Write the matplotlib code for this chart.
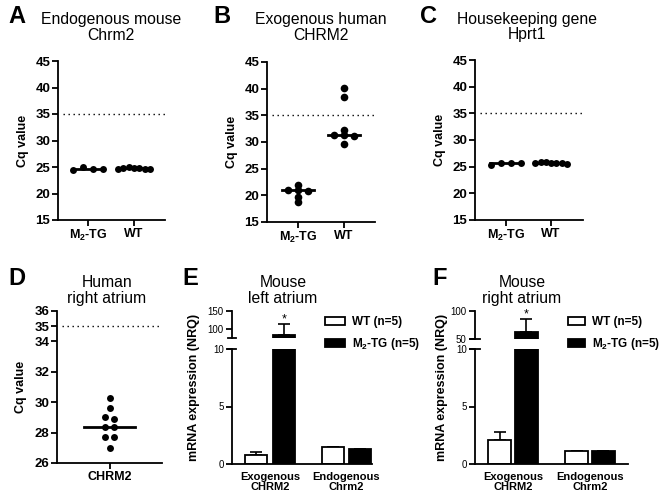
import numpy as np
import matplotlib.pyplot as plt
from matplotlib.patches import Patch

plt.rcParams['font.family'] = ['Liberation Sans', 'DejaVu Sans']
plt.rcParams['mathtext.fontset'] = 'custom'
plt.rcParams['mathtext.rm'] = 'Liberation Sans'
plt.rcParams['mathtext.bf'] = 'Liberation Sans:bold'
plt.rcParams['axes.linewidth'] = 1.3
plt.rcParams['xtick.major.width'] = 1.3
plt.rcParams['ytick.major.width'] = 1.3

W, H = 665, 496

# ---- data ----
cq_groups = [r'$\mathbf{M_2}$-TG', 'WT']
a_tg = [24.4, 25.0, 24.6, 24.6]
a_wt = [24.7, 24.9, 25.0, 24.9, 24.8, 24.7, 24.6]
b_tg = [21.0, 21.0, 20.9, 21.9, 19.7, 18.8]
b_wt = [40.1, 38.5, 32.3, 31.4, 31.3, 31.2, 29.7]
c_tg = [25.3, 25.6, 25.6, 25.6]
c_wt = [25.7, 25.9, 25.8, 25.7, 25.6, 25.7, 25.5]
d_group = ['CHRM2']
d_human = [30.3, 29.6, 29.0, 28.9, 28.4, 28.4, 27.7, 27.7, 27.0]
cq_cutoff = 35
cq_ticks = [15, 20, 25, 30, 35, 40, 45]
d_ticks = [26, 28, 30, 32, 34, 35, 36]

genes = ['Exogenous\nCHRM2', 'Endogenous\nChrm2']
e_wt = [0.75, 1.48]
e_wt_err = [0.3, 0.03]
e_tg = [83, 1.30]
e_tg_err = [31, 0.03]
f_wt = [2.1, 1.1]
f_wt_err = [0.7, 0.03]
f_tg = [63, 1.1]
f_tg_err = [23, 0.03]
bar_labels = ['WT (n=5)', r'$\mathbf{M_2}$-TG (n=5)']


def box(l, r, t, b):
    return [l / W, 1 - b / H, (r - l) / W, (b - t) / H]


def swarm(vals, tol, step, half):
    # spread points with (almost) the same value side by side
    vals = np.asarray(vals, float)
    order = np.argsort(vals, kind='stable')
    clusters = []
    for i in order:
        if clusters and vals[i] - vals[clusters[-1][0]] <= tol:
            clusters[-1].append(i)
        else:
            clusters.append([i])
    offs = np.zeros(len(vals))
    for cl in clusters:
        cl = sorted(cl)
        k = len(cl)
        d = step if k == 1 else min(step, 2 * half / (k - 1))
        for j, i in enumerate(cl):
            offs[i] = (j - (k - 1) / 2) * d
    return offs


fig = plt.figure(figsize=(W / 100, H / 100), dpi=100)


def dot_panel(rect, labels, values, ylim, yticks, xlim, tol, step, half, med, ms):
    ax = fig.add_axes(rect)
    for i, v in enumerate(values):
        off = swarm(v, tol, step, half)
        ax.plot([i - med, i + med], [np.median(v)] * 2, color='k', lw=2, zorder=2)
        ax.plot(i + off, v, 'o', color='k', ms=ms, mew=0, zorder=3, clip_on=False)
    ax.axhline(cq_cutoff, xmin=0.05, xmax=1, color='k', lw=1, ls=(0, (1, 2.6)))
    ax.set_xlim(*xlim)
    ax.set_ylim(*ylim)
    ax.set_yticks(yticks)
    ax.set_xticks(range(len(labels)))
    ax.set_xticklabels(labels, fontsize=9, fontweight='bold')
    ax.tick_params(axis='y', labelsize=9.5, length=4, pad=1.5)
    ax.tick_params(axis='x', length=4, pad=2)
    for t in ax.get_yticklabels():
        t.set_fontweight('bold')
    ax.set_ylabel('Cq value', fontsize=9, fontweight='bold', labelpad=5)
    for s in ['top', 'right']:
        ax.spines[s].set_visible(False)
    return ax


dot_panel(box(58, 165, 61, 220), cq_groups, [a_tg, a_wt], (15, 45), cq_ticks,
          (-0.66, 1.68), 0.7, 0.22, 0.35, 0.35, 5)
dot_panel(box(267, 375, 62, 222), cq_groups, [b_tg, b_wt], (15, 45), cq_ticks,
          (-0.67, 1.68), 0.5, 0.22, 0.35, 0.35, 5.5)
dot_panel(box(475, 583, 60, 220), cq_groups, [c_tg, c_wt], (15, 45), cq_ticks,
          (-0.69, 1.71), 0.7, 0.22, 0.35, 0.35, 5)
dot_panel(box(57, 162, 311, 463), d_group, [d_human], (26, 36), d_ticks,
          (-1, 1), 0.3, 0.17, 0.3, 0.48, 5)


def bar_panel(lower_rect, upper_rect, upper_lim, upper_ticks, wt, wt_err, tg, tg_err,
              xlim, width, off, legend_at, handlelen):
    axl = fig.add_axes(lower_rect)
    axu = fig.add_axes(upper_rect)
    x = np.arange(len(genes))
    for ax in (axl, axu):
        ax.bar(x - off, wt, width, color='white', edgecolor='k', lw=1.3, zorder=2)
        ax.bar(x + off, tg, width, color='k', edgecolor='k', lw=1.3, zorder=2)
        ax.errorbar(x - off, wt, yerr=[np.zeros(len(x)), wt_err], fmt='none',
                    ecolor='k', elinewidth=1.2, capsize=4, capthick=1.2, zorder=1)
        ax.errorbar(x + off, tg, yerr=[np.zeros(len(x)), tg_err], fmt='none',
                    ecolor='k', elinewidth=1.2, capsize=4, capthick=1.2, zorder=1)
        ax.set_xlim(*xlim)
        for s in ['top', 'right']:
            ax.spines[s].set_visible(False)
        ax.tick_params(axis='y', labelsize=7, length=4, pad=2)
    axl.set_ylim(0, 10)
    axl.set_yticks([0, 5, 10])
    axl.set_xticks(x)
    axl.set_xticklabels(genes, fontsize=8, fontweight='bold', linespacing=1.0)
    axl.tick_params(axis='x', length=0, pad=6)
    axu.set_ylim(*upper_lim)
    axu.set_yticks(upper_ticks)
    axu.set_xticks([])
    axu.spines['bottom'].set_visible(False)
    # break caps on the y axis
    axu.plot([-0.03, 0.03], [0, 0], transform=axu.transAxes, color='k', lw=1.3, clip_on=False)
    axl.plot([-0.03, 0.03], [1, 1], transform=axl.transAxes, color='k', lw=1.3, clip_on=False)
    # significance star over the transgenic exogenous bar
    axu.annotate('*', (x[0] + off, tg[0] + tg_err[0]), xytext=(0, -1),
                 textcoords='offset points', ha='center', va='bottom', fontsize=9)
    handles = [Patch(facecolor='white', edgecolor='k', lw=1.3),
               Patch(facecolor='k', edgecolor='k', lw=1.3)]
    fig.legend(handles, bar_labels, loc='upper left', bbox_to_anchor=legend_at,
               frameon=False, prop={'size': 8.5, 'weight': 'bold'},
               handlelength=handlelen, handleheight=0.7, handletextpad=0.6,
               labelspacing=0.7, borderpad=0, borderaxespad=0)
    return axl, axu


bar_panel(box(232, 372, 349, 464), box(232, 372, 311, 338), (75, 150), [100, 150],
          e_wt, e_wt_err, e_tg, e_tg_err, (-0.497, 1.333), 0.29, 0.18,
          (325 / W, 1 - 316 / H), 1.7)
bar_panel(box(475, 628, 349, 464), box(475, 628, 311, 339), (50, 100), [50, 100],
          f_wt, f_wt_err, f_tg, f_tg_err, (-0.494, 1.494), 0.31, 0.175,
          (568 / W, 1 - 316 / H), 1.45)

fig.text(194 / W, 1 - 387.5 / H, 'mRNA expression (NRQ)', rotation=90, ha='center',
         va='center', fontsize=9, fontweight='bold')
fig.text(442 / W, 1 - 387.5 / H, 'mRNA expression (NRQ)', rotation=90, ha='center',
         va='center', fontsize=9, fontweight='bold')

# y given as the baseline of the second title line
titles = [('Endogenous mouse\nChrm2', 111, 39.5), ('Exogenous human\nCHRM2', 321, 39.5),
          ('Housekeeping gene\nHprt1', 527, 39.5), ('Human\nright atrium', 107, 303),
          ('Mouse\nleft atrium', 283, 303), ('Mouse\nright atrium', 522, 303)]
for txt, cx, base in titles:
    fig.text(cx / W, 1 - base / H, txt, ha='center', va='baseline', fontsize=11.3,
             linespacing=1.05)

letters = [('A', 8, 23), ('B', 213, 23), ('C', 420, 23),
           ('D', 8, 285), ('E', 182, 285), ('F', 432, 285)]
for lt, lx, base in letters:
    fig.text(lx / W, 1 - base / H, lt, ha='left', va='baseline', fontsize=17,
             fontweight='bold')

fig.savefig('out.png', dpi=100)
